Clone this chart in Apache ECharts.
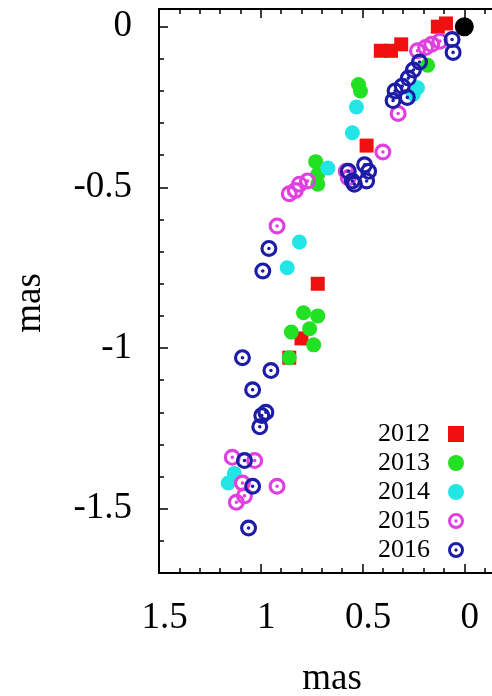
<!DOCTYPE html>
<html>
<head>
<meta charset="utf-8">
<script src="https://cdn.jsdelivr.net/npm/echarts@6/dist/echarts.min.js"></script>
<style>
  html, body { margin: 0; padding: 0; background: #fff; }
  #chart { width: 492px; height: 696px; }
</style>
</head>
<body>
<div id="chart"></div>
<script>
// Offsets in mas, [x, y] per epoch
const pts2012 = [
  [0.13, 0.00], [0.09, 0.01],
  [0.41, -0.075], [0.36, -0.075], [0.31, -0.055],
  [0.48, -0.37],
  [0.72, -0.80],
  [0.80, -0.97],
  [0.86, -1.03]
];
const pts2013 = [
  [0.18, -0.12],
  [0.52, -0.18], [0.51, -0.20],
  [0.73, -0.42], [0.72, -0.46], [0.72, -0.49],
  [0.79, -0.89], [0.72, -0.90], [0.76, -0.94], [0.85, -0.95], [0.74, -0.99],
  [0.86, -1.03]
];
const pts2014 = [
  [0.23, -0.19], [0.25, -0.21],
  [0.53, -0.25], [0.55, -0.33],
  [0.67, -0.44],
  [0.81, -0.67], [0.87, -0.75],
  [1.13, -1.39], [1.16, -1.42]
];
const pts2015 = [
  [0.23, -0.075], [0.19, -0.065], [0.16, -0.055], [0.12, -0.045],
  [0.325, -0.27],
  [0.40, -0.39],
  [0.58, -0.45], [0.57, -0.47],
  [0.77, -0.48], [0.81, -0.49], [0.83, -0.51], [0.86, -0.52],
  [0.92, -0.62],
  [1.14, -1.34], [1.03, -1.35], [1.09, -1.42], [1.08, -1.46], [0.92, -1.43], [1.12, -1.48]
];
const pts2016 = [
  [0.06, -0.04], [0.055, -0.08],
  [0.22, -0.11], [0.25, -0.135], [0.275, -0.16], [0.305, -0.185], [0.34, -0.20],
  [0.35, -0.23], [0.28, -0.22],
  [0.49, -0.43], [0.47, -0.45], [0.48, -0.48], [0.54, -0.49], [0.57, -0.45], [0.55, -0.48],
  [0.96, -0.69], [0.99, -0.76],
  [1.09, -1.03], [0.95, -1.07], [1.04, -1.13],
  [0.995, -1.21], [0.975, -1.20], [1.005, -1.245],
  [1.08, -1.35], [1.04, -1.43], [1.06, -1.56]
];
const ptsOrigin = [[0, 0]];

const years = ['2012', '2013', '2014', '2015', '2016'];
const xRange = [-0.2, 1.5];
const yRange = [-1.7, 0.055];

const FONT = 'Liberation Serif';
// ring with a centre dot
const RING = 'path://M0,-10A10,10,0,1,1,0,10A10,10,0,1,1,0,-10Z' +
  'M0,-6.3A6.3,6.3,0,1,0,0,6.3A6.3,6.3,0,1,0,0,-6.3Z' +
  'M0,-2.1A2.1,2.1,0,1,1,0,2.1A2.1,2.1,0,1,1,0,-2.1Z';

const tickStyle = { color: '#000', width: 1.5 };
const lineStyle = { color: '#000', width: 2 };

function xAxisDef(pos, major) {
  const a = {
    type: 'value', position: pos, min: xRange[0], max: xRange[1], inverse: true,
    axisLine: { show: major, onZero: false, lineStyle: lineStyle },
    axisTick: { inside: true, length: major ? 9 : 5, lineStyle: tickStyle },
    axisLabel: { show: false },
    splitLine: { show: false }
  };
  if (major) a.splitNumber = 4; else a.interval = 0.1;
  return a;
}
function yAxisDef(major) {
  const a = {
    type: 'value', position: 'left', min: yRange[0], max: yRange[1],
    axisLine: { show: major, onZero: false, lineStyle: lineStyle },
    axisTick: { inside: true, length: major ? 9 : 5, lineStyle: tickStyle },
    axisLabel: { show: false },
    splitLine: { show: false }
  };
  if (major) a.splitNumber = 4; else a.interval = 0.1;
  return a;
}

const xMain = xAxisDef('bottom', true);
xMain.axisLabel = {
  show: true, fontFamily: FONT, fontSize: 37, color: '#000', margin: 27,
  padding: [0, 0, 0, 11],
  showMinLabel: false, showMaxLabel: true
};
xMain.name = 'mas';
xMain.nameLocation = 'middle';
xMain.nameGap = 88;
xMain.nameTextStyle = { fontFamily: FONT, fontSize: 37, color: '#000' };

const yMain = yAxisDef(true);
yMain.axisLabel = {
  show: true, fontFamily: FONT, fontSize: 37, color: '#000', margin: 27,
  padding: [8, 0, 0, 0],
  showMinLabel: false, showMaxLabel: false
};
yMain.name = 'mas';
yMain.nameLocation = 'middle';
yMain.nameGap = 110;
yMain.nameTextStyle = { fontFamily: FONT, fontSize: 37, color: '#000', padding: [0, 24, 0, 0] };

const seriesSpec = [
  { name: '2012', data: pts2012, symbol: 'rect', size: 14, color: '#f01010' },
  { name: '2013', data: pts2013, symbol: 'circle', size: 15, color: '#22e022' },
  { name: '2014', data: pts2014, symbol: 'circle', size: 15, color: '#22e6e6' },
  { name: '2015', data: pts2015, symbol: RING, size: 17, color: '#e040e0' },
  { name: '2016', data: pts2016, symbol: RING, size: 17, color: '#1c1ca8' }
];

const series = seriesSpec.map(s => ({
  name: s.name, type: 'scatter', data: s.data,
  symbol: s.symbol, symbolSize: s.size,
  itemStyle: { color: s.color, opacity: 1 },
  xAxisIndex: 0, yAxisIndex: 0,
  emphasis: { disabled: true }, animation: false
}));
series.push({
  name: 'origin', type: 'scatter', data: ptsOrigin,
  symbol: 'circle', symbolSize: 19,
  itemStyle: { color: '#000', opacity: 1 },
  xAxisIndex: 0, yAxisIndex: 0,
  emphasis: { disabled: true }, animation: false
});

const chart = echarts.init(document.getElementById('chart'), null, { renderer: 'canvas' });
chart.setOption({
  backgroundColor: '#fff',
  animation: false,
  grid: { left: 159, top: 9, width: 346, bottom: 123, containLabel: false, outerBoundsMode: 'none' },
  xAxis: [xMain, xAxisDef('bottom', false), xAxisDef('top', true), xAxisDef('top', false)],
  yAxis: [yMain, yAxisDef(false)],
  legend: {
    data: years, orient: 'vertical', right: 28, top: 421, align: 'right',
    itemWidth: 16, itemHeight: 16, itemGap: 3, padding: 0,
    selectedMode: false,
    textStyle: { fontFamily: FONT, fontSize: 26, color: '#000', lineHeight: 22, padding: [0, 13, 0, 0] }
  },
  series: series
});
</script>
</body>
</html>
